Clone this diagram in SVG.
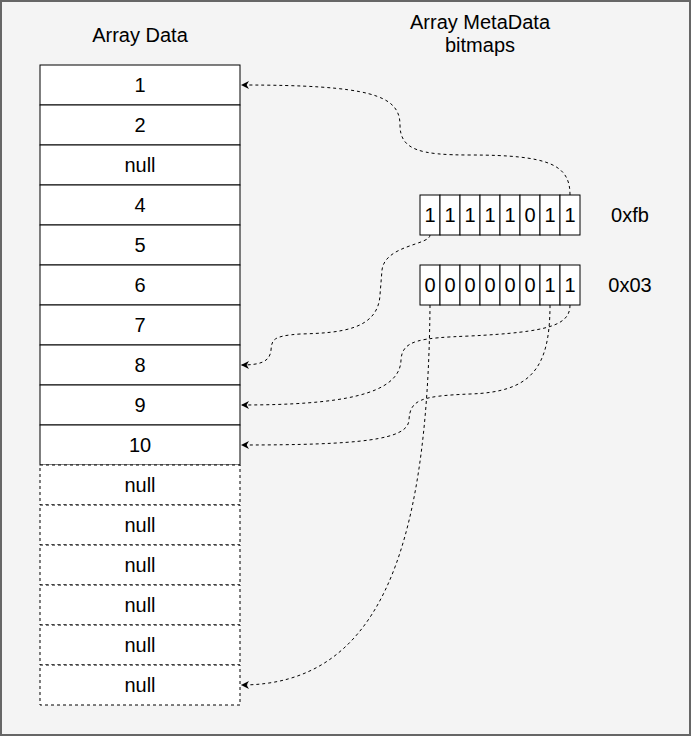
<svg xmlns="http://www.w3.org/2000/svg" width="691" height="736" viewBox="0 0 691 736">
<style>
text{font-family:"Liberation Sans",Arial,Helvetica,sans-serif;font-size:20px;fill:#000;text-anchor:middle}
.cell{fill:#fff;stroke:#000;stroke-width:1}
.dcell{fill:#fff;stroke:#000;stroke-width:1;stroke-dasharray:3 3}
.bit{fill:#fff;stroke:#000;stroke-width:1}
.edge{fill:none;stroke:#000;stroke-width:1;stroke-dasharray:3 3;marker-end:url(#arr)}
</style>
<defs>
<marker id="arr" viewBox="0 0 10 10" refX="10" refY="5" markerWidth="8" markerHeight="8" markerUnits="userSpaceOnUse" orient="auto">
<path d="M0,0 L10,5 L0,10 L3,5 Z" fill="#000"/>
</marker>
</defs>
<rect x="1" y="1" width="689" height="734" fill="#f4f4f4" stroke="#666" stroke-width="2"/>
<g id="title-array"><text x="140" y="42">Array Data</text></g>
<g id="title-meta"><text x="480" y="29">Array MetaData</text><text x="480" y="52">bitmaps</text></g>
<g id="array">
<g id="cell1"><rect class="cell" x="40" y="65" width="200" height="40"/><text x="140" y="92">1</text></g>
<g id="cell2"><rect class="cell" x="40" y="105" width="200" height="40"/><text x="140" y="132">2</text></g>
<g id="cell3"><rect class="cell" x="40" y="145" width="200" height="40"/><text x="140" y="172">null</text></g>
<g id="cell4"><rect class="cell" x="40" y="185" width="200" height="40"/><text x="140" y="212">4</text></g>
<g id="cell5"><rect class="cell" x="40" y="225" width="200" height="40"/><text x="140" y="252">5</text></g>
<g id="cell6"><rect class="cell" x="40" y="265" width="200" height="40"/><text x="140" y="292">6</text></g>
<g id="cell7"><rect class="cell" x="40" y="305" width="200" height="40"/><text x="140" y="332">7</text></g>
<g id="cell8"><rect class="cell" x="40" y="345" width="200" height="40"/><text x="140" y="372">8</text></g>
<g id="cell9"><rect class="cell" x="40" y="385" width="200" height="40"/><text x="140" y="412">9</text></g>
<g id="cell10"><rect class="cell" x="40" y="425" width="200" height="40"/><text x="140" y="452">10</text></g>
<g id="cell11"><rect class="dcell" x="40" y="465" width="200" height="40"/><text x="140" y="492">null</text></g>
<g id="cell12"><rect class="dcell" x="40" y="505" width="200" height="40"/><text x="140" y="532">null</text></g>
<g id="cell13"><rect class="dcell" x="40" y="545" width="200" height="40"/><text x="140" y="572">null</text></g>
<g id="cell14"><rect class="dcell" x="40" y="585" width="200" height="40"/><text x="140" y="612">null</text></g>
<g id="cell15"><rect class="dcell" x="40" y="625" width="200" height="40"/><text x="140" y="652">null</text></g>
<g id="cell16"><rect class="dcell" x="40" y="665" width="200" height="40"/><text x="140" y="692">null</text></g>
</g>
<g id="bitmap1">
<rect class="bit" x="420" y="195" width="20" height="40"/><text x="430" y="222">1</text>
<rect class="bit" x="440" y="195" width="20" height="40"/><text x="450" y="222">1</text>
<rect class="bit" x="460" y="195" width="20" height="40"/><text x="470" y="222">1</text>
<rect class="bit" x="480" y="195" width="20" height="40"/><text x="490" y="222">1</text>
<rect class="bit" x="500" y="195" width="20" height="40"/><text x="510" y="222">1</text>
<rect class="bit" x="520" y="195" width="20" height="40"/><text x="530" y="222">0</text>
<rect class="bit" x="540" y="195" width="20" height="40"/><text x="550" y="222">1</text>
<rect class="bit" x="560" y="195" width="20" height="40"/><text x="570" y="222">1</text>
</g>
<g id="bitmap2">
<rect class="bit" x="420" y="265" width="20" height="40"/><text x="430" y="292">0</text>
<rect class="bit" x="440" y="265" width="20" height="40"/><text x="450" y="292">0</text>
<rect class="bit" x="460" y="265" width="20" height="40"/><text x="470" y="292">0</text>
<rect class="bit" x="480" y="265" width="20" height="40"/><text x="490" y="292">0</text>
<rect class="bit" x="500" y="265" width="20" height="40"/><text x="510" y="292">0</text>
<rect class="bit" x="520" y="265" width="20" height="40"/><text x="530" y="292">0</text>
<rect class="bit" x="540" y="265" width="20" height="40"/><text x="550" y="292">1</text>
<rect class="bit" x="560" y="265" width="20" height="40"/><text x="570" y="292">1</text>
</g>
<g id="label-fb"><text x="630" y="222">0xfb</text></g>
<g id="label-03"><text x="630" y="292">0x03</text></g>
<g id="connectors">
<path class="edge" d="M570,195 C570,165 550,155 470,155 C420,155 400,150 400,125 C400,95 370,85 241,85"/>
<path class="edge" d="M430,235 C430,245 385,245 382,270 L380,295 C378,330 340,333 300,334 C272,336 272,340 271,350 C270,362 260,365 241,365"/>
<path class="edge" d="M570,305 C570,325 550,332 470,336 C420,338 402,340 401,360 C400,395 340,405 241,405"/>
<path class="edge" d="M550,305 C550,370 530,392 470,394 C420,396 410,400 409,420 C408,440 360,445 241,445"/>
<path class="edge" d="M430,305 C428,560 375,685 241,685"/>
</g>
</svg>
